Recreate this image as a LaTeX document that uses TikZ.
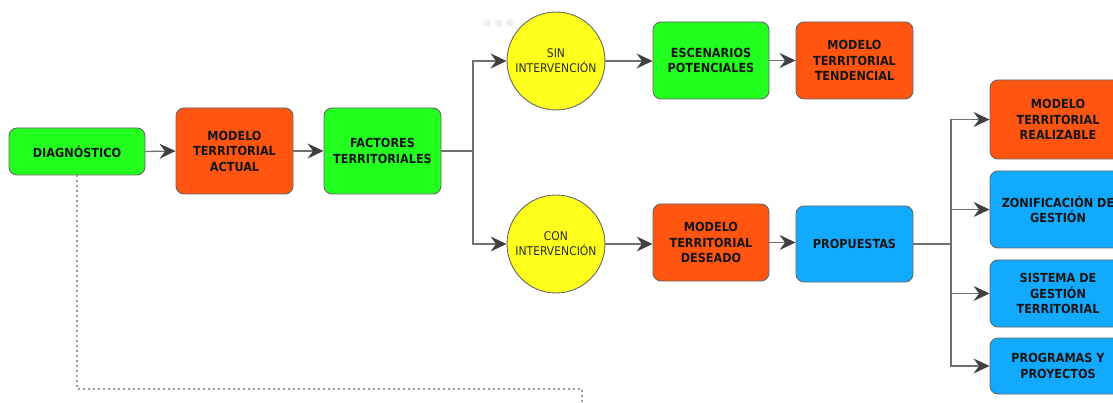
\documentclass[tikz,border=0pt]{standalone}
\usepackage{fontspec}
\setmainfont{DejaVu Sans}
\newfontfamily\boxfont{DejaVu Sans Condensed}[BoldFont={DejaVu Sans Condensed Bold}]
\usetikzlibrary{arrows.meta,positioning}
\definecolor{cgreen}{HTML}{22FF1E}
\definecolor{corange}{HTML}{FF5511}
\definecolor{cyellow}{HTML}{FFFF1E}
\definecolor{cblue}{HTML}{11AAFF}
\definecolor{cborder}{HTML}{666666}
\definecolor{cline}{HTML}{707070}
\definecolor{ctip}{HTML}{404040}
\definecolor{ctext}{HTML}{151515}
\tikzset{
  base/.style={draw=cborder, line width=0.9pt, rounded corners=8pt, align=center,
    inner sep=2pt, font=\boxfont\bfseries\fontsize{12.5}{15.5}\selectfont, text=ctext},
  gbox/.style={base, fill=cgreen},
  obox/.style={base, fill=corange},
  bbox/.style={base, fill=cblue},
  circ/.style={circle, draw=cborder, line width=0.9pt, fill=cyellow, minimum size=98pt,
    inner sep=0pt, align=center, font=\boxfont\fontsize{12}{15}\selectfont, text=ctext!90},
  conn/.style={draw=cline, line width=1.3pt, -{Stealth[length=16pt,width=15pt,inset=5.5pt,color=ctip]}},
  plain/.style={draw=cline, line width=1.3pt},
  dotline/.style={draw=cline!70, line width=1.5pt, dash pattern=on 2pt off 3pt},
  uidot/.style={circle, fill=black!6, minimum size=8pt, inner sep=0pt}
}
\begin{document}
\begin{tikzpicture}[x=1pt,y=-1pt]
\useasboundingbox (0,0) rectangle (1113,403);
\clip (0,0) rectangle (1113,403);
% faint dots
\node[uidot] (d1) at (487,23) {};
\node[uidot] (d2) at (498.5,23) {};
\node[uidot] (d3) at (510,23) {};
% nodes
\node[gbox, minimum width=136pt, minimum height=47pt] (diag) at (77,151.5) {DIAGNÓSTICO};
\node[obox, minimum width=117pt, minimum height=86pt] (actual) at (234.5,151) {MODELO\\TERRITORIAL\\ACTUAL};
\node[gbox, minimum width=117pt, minimum height=86pt] (fact) at (382.5,151) {FACTORES\\TERRITORIALES};
\node[circ] (sin) at (556,61) {SIN\\INTERVENCIÓN};
\node[circ] (con) at (556,244) {CON\\INTERVENCIÓN};
\node[gbox, minimum width=116pt, minimum height=77pt] (esc) at (711,60.5) {ESCENARIOS\\POTENCIALES};
\node[obox, minimum width=117pt, minimum height=77pt] (tend) at (854.5,60.5) {MODELO\\TERRITORIAL\\TENDENCIAL};
\node[obox, minimum width=116pt, minimum height=77pt] (des) at (711,242.5) {MODELO\\TERRITORIAL\\DESEADO};
\node[bbox, minimum width=117pt, minimum height=76pt] (prop) at (854.5,244) {PROPUESTAS};
\node[obox, minimum width=136pt, minimum height=79pt] (real) at (1058,119.5) {MODELO\\TERRITORIAL\\REALIZABLE};
\node[bbox, minimum width=136pt, minimum height=77pt] (zon) at (1058,209.5) {ZONIFICACIÓN DE\\GESTIÓN};
\node[bbox, minimum width=136pt, minimum height=67pt] (sis) at (1058,293.5) {SISTEMA DE\\GESTIÓN\\TERRITORIAL};
\node[bbox, minimum width=136pt, minimum height=56pt] (prog) at (1058,366) {PROGRAMAS Y\\PROYECTOS};
% coordinates
\coordinate (b1) at (473,151);
\coordinate (b2) at (951,244);
\coordinate (dd) at (77,389);
\coordinate (de) at (582,389);
\coordinate (dend) at (582,403);
% connectors
\draw[conn] (diag.east) -- (actual.west);
\draw[conn] (actual.east) -- (fact.west);
\draw[plain] (fact.east) -- (b1);
\draw[conn] (b1) |- (sin.west);
\draw[conn] (b1) |- (con.west);
\draw[conn] (sin.east) -- (esc.west |- sin.east);
\draw[conn] (esc.east) -- (tend.west);
\draw[conn] (con.east) -- (des.west |- con.east);
\draw[conn] (des.east) -- (prop.west |- des.east);
\draw[plain] (prop.east) -- (b2);
\draw[conn] (b2) |- (real.west);
\draw[conn] (b2) |- (zon.west);
\draw[conn] (b2) |- (sis.west);
\draw[conn] (b2) |- (prog.west);
\draw[dotline] (diag.south) -- (dd) -- (de) -- (dend);
\end{tikzpicture}
\end{document}
